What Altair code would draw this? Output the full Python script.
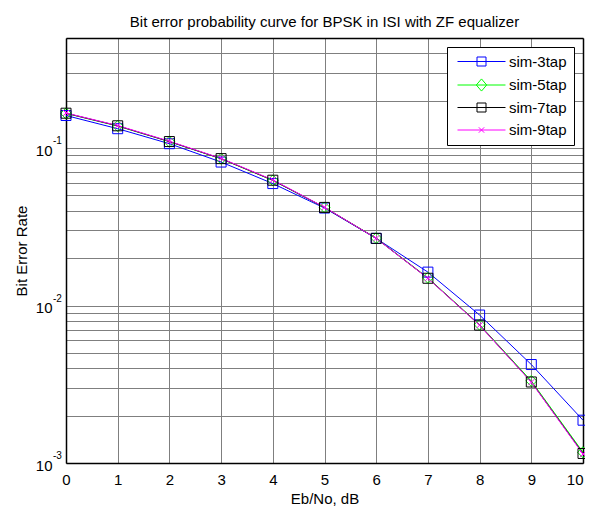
import altair as alt
import pandas as pd

snr_db = [0, 1, 2, 3, 4, 5, 6, 7, 8, 9, 10]
series_names = ["sim-3tap", "sim-5tap", "sim-7tap", "sim-9tap"]
ber_3tap = [0.161, 0.1327, 0.1066, 0.0815, 0.0595, 0.0416, 0.0267, 0.0163, 0.0087, 0.00422, 0.00187]
ber_5tap = [0.166, 0.1380, 0.1098, 0.0855, 0.0623, 0.0420, 0.0268, 0.0150, 0.00756, 0.00332, 0.00117]
ber_7tap = [0.1665, 0.1385, 0.1100, 0.0857, 0.0625, 0.0420, 0.0267, 0.0149, 0.00751, 0.00327, 0.00115]
ber_9tap = [0.1670, 0.1390, 0.1105, 0.0860, 0.0628, 0.0421, 0.0267, 0.0149, 0.00750, 0.00326, 0.00114]
colors = ["#0000ff", "#00ff00", "#000000", "#ff00ff"]
point_shapes = ["square", "diamond", "square", "M-1,-1L1,1M-1,1L1,-1"]
point_sizes = [100, 120, 100, 36]
legend_paths = [
    "M-5.33,0H5.33M-1,-1H1V1H-1Z",
    "M-5.33,0H5.33M0,-1.35L1.15,0L0,1.35L-1.15,0Z",
    "M-5.33,0H5.33M-1,-1H1V1H-1Z",
    "M-5.33,0H5.33M-0.6,-0.6L0.6,0.6M-0.6,0.6L0.6,-0.6",
]
y_grid = [k * 10.0 ** e for e in (-3, -2, -1) for k in range(1, 10) if k * 10.0 ** e < 0.45]
decades = [0.001, 0.01, 0.1]
exponents = ["-3", "-2", "-1"]

FONT = "Liberation Sans"

rows = []
for name, vals in zip(series_names, [ber_3tap, ber_5tap, ber_7tap, ber_9tap]):
    for x, v in zip(snr_db, vals):
        rows.append({"snr": x, "ber": v, "series": name})
df = pd.DataFrame(rows)
exp_df = pd.DataFrame({"ber": decades, "exp": exponents})

x_scale = alt.Scale(domain=[0, 10], nice=False, zero=False)
y_scale = alt.Scale(type="log", domain=[0.001, 0.5], nice=False)
color_scale = alt.Scale(domain=series_names, range=colors)

grid_color = "#7f7f7f"

x_axis_main = alt.Axis(
    values=snr_db, title="Eb/No, dB", grid=True, gridColor=grid_color, gridWidth=1,
    gridOpacity=1, ticks=False, labelPadding=9, labelFontSize=15, labelFont=FONT,
    labelColor="black", titleFont=FONT, titleFontSize=15, titleFontWeight="normal",
    titleColor="black", titlePadding=4, domainColor="black", domainWidth=1.5,
    labelFlush=False, format="d",
    labelAlign={"condition": {"test": "datum.value >= 10", "value": "right"}, "value": "center"},
)
y_axis_main = alt.Axis(
    values=y_grid, title="Bit Error Rate", grid=True, gridColor=grid_color, gridWidth=1,
    gridOpacity=1, ticks=False, labelPadding=14, labelFontSize=15, labelFont=FONT,
    labelColor="black", labelOffset=2,
    labelExpr="abs(log(datum.value)/log(10) - round(log(datum.value)/log(10))) < 1e-6 ? '10' : ''",
    titleFont=FONT, titleFontSize=15, titleFontWeight="normal", titleColor="black",
    titlePadding=6, domainColor="black", domainWidth=1.5, labelFlush=False,
)

layers = []
for i, (name, c) in enumerate(zip(series_names, colors)):
    layers.append(
        alt.Chart(df).transform_filter(alt.datum.series == name).mark_line(
            strokeWidth=1, color=c
        ).encode(
            x=alt.X("snr:Q", scale=x_scale, axis=x_axis_main if i == 0 else None),
            y=alt.Y("ber:Q", scale=y_scale, axis=y_axis_main if i == 0 else None),
        )
    )

for name, c, shp, sz in zip(series_names, colors, point_shapes, point_sizes):
    layers.append(
        alt.Chart(df).transform_filter(alt.datum.series == name).mark_point(
            filled=False, strokeWidth=1, opacity=1, shape=shp, size=sz, color=c
        ).encode(
            x=alt.X("snr:Q", scale=x_scale, axis=None),
            y=alt.Y("ber:Q", scale=y_scale, axis=None),
        )
    )

layers.append(alt.Chart(exp_df).mark_text(
    align="left", baseline="middle", fontSize=10, font=FONT, color="black", dx=0, dy=-7
).encode(
    x=alt.value(-13),
    y=alt.Y("ber:Q", scale=y_scale, axis=None),
    text="exp:N",
))

leg_common = dict(
    title=None, orient="none", legendX=381, legendY=9, fillColor="white",
    strokeColor="black", padding=7, symbolSize=81, symbolStrokeWidth=1,
    symbolOffset=20, labelOffset=20, labelFontSize=15, labelFont=FONT,
    labelColor="black", rowPadding=6.5, symbolFillColor="transparent",
)

layers.append(alt.Chart(df).transform_filter(alt.datum.snr < 0).mark_point(
    filled=False, strokeWidth=1, opacity=1
).encode(
    x=alt.X("snr:Q", scale=x_scale, axis=alt.Axis(
        orient="top", labels=False, ticks=False, grid=False, title=None,
        domainColor="black", domainWidth=1.5)),
    y=alt.Y("ber:Q", scale=y_scale, axis=alt.Axis(
        orient="right", labels=False, ticks=False, grid=False, title=None,
        domainColor="black", domainWidth=1.5)),
    shape=alt.Shape("series:N", scale=alt.Scale(domain=series_names, range=legend_paths),
                    legend=alt.Legend(**leg_common)),
    color=alt.Color("series:N", scale=color_scale, legend=alt.Legend(**leg_common)),
))

chart = alt.layer(*layers).resolve_axis(
    x="independent", y="independent"
).properties(
    width=517, height=425,
    title=alt.TitleParams("Bit error probability curve for BPSK in ISI with ZF equalizer",
                          fontSize=15, font=FONT, fontWeight="normal", color="black", offset=8),
    autosize=alt.AutoSizeParams(type="none"),
    padding={"left": 58, "top": 30, "right": 2, "bottom": 43},
).configure_view(stroke=None).configure(background="white")

chart.save("out.html", embed_options={"renderer": "svg", "actions": False})
